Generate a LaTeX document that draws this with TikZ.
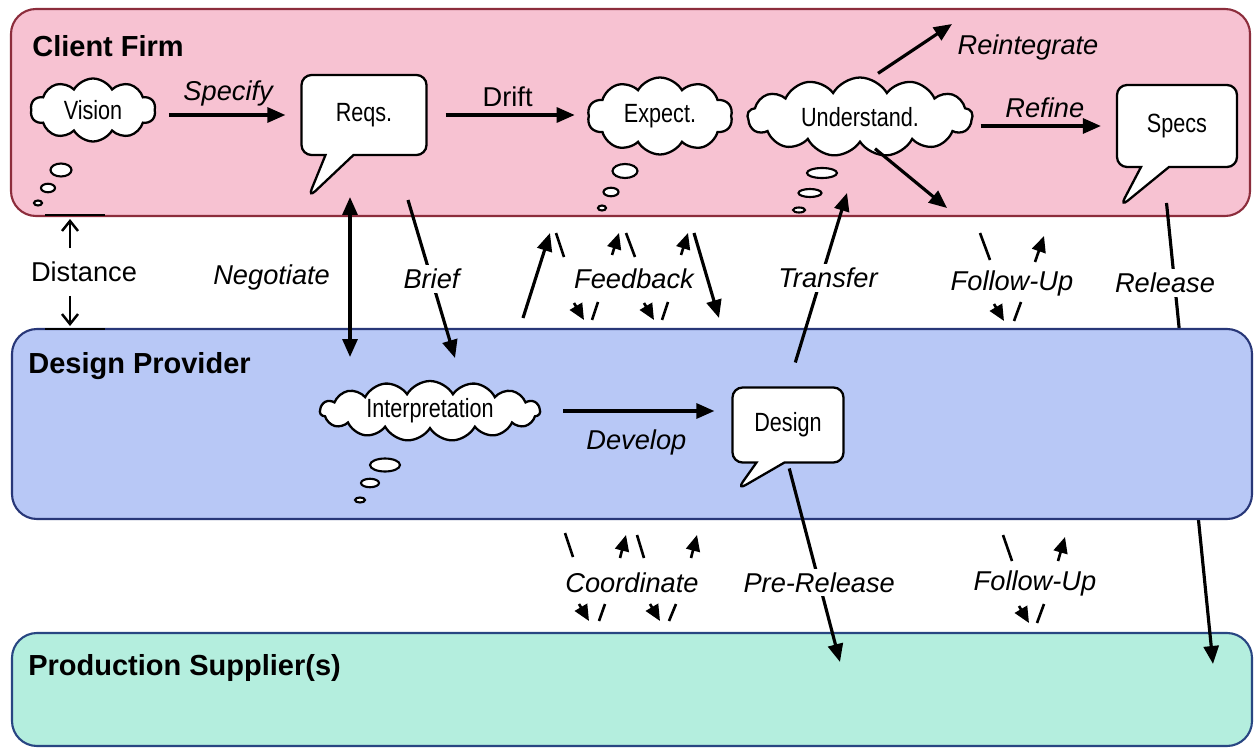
\documentclass[tikz,border=0pt]{standalone}
\usepackage{fontspec}
\setmainfont{Liberation Sans}
\newfontfamily\narrowfont[FakeStretch=0.82]{Liberation Sans}
\usetikzlibrary{arrows.meta,shapes.symbols,shapes.callouts,shapes.geometric}

\definecolor{clientfill}{RGB}{247,194,210}
\definecolor{clientedge}{RGB}{140,45,60}
\definecolor{designfill}{RGB}{184,200,246}
\definecolor{designedge}{RGB}{40,55,120}
\definecolor{supplyfill}{RGB}{180,238,222}
\definecolor{supplyedge}{RGB}{40,70,130}

\tikzset{
    band/.style={line width=1.2pt, rounded corners=0.5cm},
    title/.style={anchor=west, inner sep=0pt, font=\fontsize{16.5}{19}\selectfont\bfseries},
    thought/.style={cloud, cloud puffs=10, cloud puff arc=120, cloud ignores aspect,
        draw, fill=white, line width=1.3pt, inner sep=0pt, font=\narrowfont\fontsize{15}{17}\selectfont},
    puff/.style={ellipse, draw, fill=white, line width=1.2pt, inner sep=0pt},
    saying/.style={rectangle callout, draw, fill=white, line width=1.3pt, rounded corners=0.2cm,
        callout pointer width=0.56cm, font=\narrowfont\fontsize{15}{17}\selectfont},
    flow/.style={-{Triangle[length=0.36cm,width=0.3cm]}, line width=1.8pt},
    flowboth/.style={{Triangle[length=0.36cm,width=0.3cm]}-{Triangle[length=0.36cm,width=0.3cm]}, line width=1.8pt},
    hint/.style={-{Triangle[length=0.32cm,width=0.28cm]}, line width=1.5pt},
    stroke/.style={line width=1.5pt},
    reach/.style={-{Straight Barb[length=0.2cm,width=0.32cm]}, line width=1.4pt},
    lbl/.style={font=\fontsize{15.5}{18}\selectfont\itshape, inner sep=2pt},
    word/.style={font=\fontsize{15.5}{18}\selectfont, inner sep=2pt},
    gap/.style={lbl, fill=white},
}

\begin{document}
\begin{tikzpicture}[x=0.02cm, y=-0.02cm]
    \useasboundingbox (0,0) rectangle (1254,750);

    % client and supplier lanes
    \draw[band, draw=clientedge, fill=clientfill] (11,9) rectangle (1250,216);
    \draw[band, draw=supplyedge, fill=supplyfill] (12,633) rectangle (1252,746);
    \node[title] (client) at (32,46) {Client Firm};
    \node[title] (supplier) at (28,668) {Production Supplier(s)};

    \node[thought, minimum width=2.5cm, minimum height=1.26cm] (vision) at (93,110) {Vision};
    \node[puff, minimum width=0.42cm, minimum height=0.26cm] (vision1) at (61,170) {};
    \node[puff, minimum width=0.28cm, minimum height=0.17cm] (vision2) at (48,188) {};
    \node[puff, minimum width=0.16cm, minimum height=0.10cm] (vision3) at (38,203) {};

    \node[saying, minimum width=2.5cm, minimum height=1.6cm,
        callout absolute pointer={(308,198)}] (reqs) at (364,115) {Reqs.};

    \node[thought, minimum width=2.9cm, minimum height=1.54cm] (expect) at (660,116) {Expect.};
    \node[puff, minimum width=0.5cm, minimum height=0.28cm] (expect1) at (625,171) {};
    \node[puff, minimum width=0.3cm, minimum height=0.17cm] (expect2) at (611,192) {};
    \node[puff, minimum width=0.16cm, minimum height=0.10cm] (expect3) at (602,208) {};

    \node[thought, cloud puffs=13, minimum width=4.5cm, minimum height=1.58cm] (und) at (860,117) {Understand.};
    \node[puff, minimum width=0.6cm, minimum height=0.2cm] (und1) at (822,173) {};
    \node[puff, minimum width=0.46cm, minimum height=0.16cm] (und2) at (810,193) {};
    \node[puff, minimum width=0.24cm, minimum height=0.10cm] (und3) at (799,210) {};

    \node[saying, minimum width=2.4cm, minimum height=1.64cm,
        callout absolute pointer={(1120,207)}] (specs) at (1177,126) {Specs};

    \coordinate (reint) at (952,24);
    \coordinate (undout) at (947,208);
    \coordinate (release) at (1213,664);

    \draw[flow, shorten <=0.26cm, shorten >=0.3cm] (vision.east |- reqs.west) -- node[lbl, above=2pt] {Specify} (reqs.west);
    \draw[flow, shorten <=0.36cm, shorten >=0.26cm] (reqs.east) -- node[word, above=2pt] {Drift} (reqs.east -| expect.west);
    \draw[flow, shorten <=0.14cm, shorten >=0.3cm] (und.east |- specs.west) -- node[lbl, above=2pt] {Refine} (specs.west);
    \draw[flow] ([xshift=0.36cm,yshift=0.06cm]und.north) -- (reint);
    \node[lbl] (reintlbl) at (1028,47) {Reintegrate};
    \draw[flow] ([xshift=0.3cm,yshift=-0.1cm]und.south) -- (undout);

    % release runs behind the provider lane
    \draw[flow, shorten <=0.7cm] ([xshift=-0.28cm]specs.south) -- (release);
    \node[gap] (releaselbl) at (1165,283) {Release};

    % design provider lane
    \draw[band, draw=designedge, fill=designfill] (12,329) rectangle (1252,519);
    \node[title] (provider) at (28,366) {Design Provider};

    \node[thought, cloud puffs=15, minimum width=4.4cm, minimum height=1.2cm] (interp) at (430,411) {Interpretation};
    \node[puff, minimum width=0.6cm, minimum height=0.26cm] (interp1) at (385,465) {};
    \node[puff, minimum width=0.36cm, minimum height=0.17cm] (interp2) at (370,483) {};
    \node[puff, minimum width=0.2cm, minimum height=0.10cm] (interp3) at (360,500) {};

    \node[saying, minimum width=2.22cm, minimum height=1.5cm,
        callout absolute pointer={(737,490)}] (design) at (788,425) {Design};

    \draw[flow, shorten <=0.44cm, shorten >=0.34cm] (interp.east) -- node[lbl, below=8pt] {Develop} (interp.east -| design.west);

    % between client and provider
    \coordinate (negoup) at (350,197);
    \coordinate (negodown) at (350,357);
    \coordinate (brieftop) at (408,200);
    \coordinate (briefend) at (455,358);
    \coordinate (transtip) at (847,193);
    \coordinate (disttop) at (70,219);
    \coordinate (distbot) at (70,326);
    \coordinate (preend) at (840,662);

    \node[word] (distance) at (84,272) {Distance};
    \draw[reach, shorten <=0.2cm] (distance.north -| disttop) -- (disttop);
    \draw[reach, shorten <=0.2cm] (distance.south -| distbot) -- (distbot);
    \draw[stroke] (45,215) -- (105,215);
    \draw[stroke] (45,329) -- (105,329);

    \draw[flowboth] (negoup) -- node[lbl, left=0.3cm] {Negotiate} (negodown);
    \draw[flow] (brieftop) -- node[gap] {Brief} (briefend);

    \draw[flow, shorten <=0.5cm] (design.north) -- (transtip);
    \node[gap] (transferlbl) at (828,278) {Transfer};

    \draw[flow] (523,318) -- (550,233);
    \draw[stroke] (556,233) -- (564,257);
    \draw[hint] (612,255) -- (619,233);
    \draw[stroke] (626,233) -- (635,257);
    \draw[hint] (681,255) -- (688,233);
    \draw[flow] (694,233) -- (719,318);
    \draw[hint] (574,303) -- (584,320);
    \draw[stroke] (592,320) -- (598,302);
    \draw[hint] (644,303) -- (654,320);
    \draw[stroke] (662,320) -- (668,302);
    \node[lbl] (feedback) at (634,279) {Feedback};

    \draw[stroke] (980,233) -- (990,260);
    \draw[hint] (1035,262) -- (1044,236);
    \draw[hint] (994,304) -- (1004,321);
    \draw[stroke] (1014,321) -- (1021,302);
    \node[lbl] (followtop) at (1012,283) {Follow-Up};

    % between provider and supplier
    \draw[flow, shorten <=0.1cm] (design.south) -- node[gap, pos=0.6] {Pre-Release} (preend);

    \draw[stroke] (565,533) -- (573,557);
    \draw[hint] (620,558) -- (626,535);
    \draw[stroke] (637,535) -- (644,558);
    \draw[hint] (691,558) -- (697,535);
    \draw[hint] (579,604) -- (589,621);
    \draw[stroke] (599,621) -- (605,604);
    \draw[hint] (650,604) -- (660,621);
    \draw[stroke] (669,621) -- (676,604);
    \node[lbl] (coordinate) at (632,583) {Coordinate};

    \draw[stroke] (1003,535) -- (1012,561);
    \draw[hint] (1058,561) -- (1065,537);
    \draw[hint] (1019,606) -- (1029,623);
    \draw[stroke] (1037,623) -- (1044,604);
    \node[lbl] (followbot) at (1035,583) {Follow-Up};
\end{tikzpicture}
\end{document}
